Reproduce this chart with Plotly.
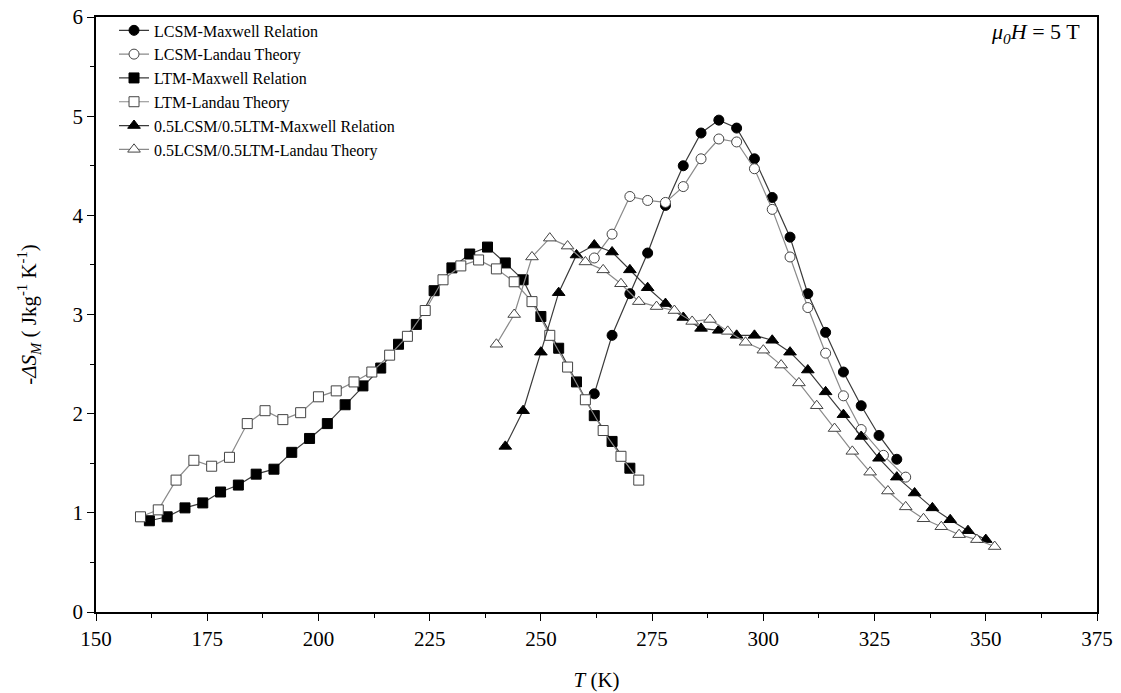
import plotly.graph_objects as go

# ---------------- data ----------------
T_lcsm_max = [262, 266, 270, 274, 278, 282, 286, 290, 294, 298, 302, 306, 310, 314, 318, 322, 326, 330]
S_lcsm_max = [2.20, 2.79, 3.21, 3.62, 4.10, 4.50, 4.83, 4.96, 4.88, 4.57, 4.18, 3.78, 3.21, 2.82, 2.42, 2.08, 1.78, 1.54]

T_lcsm_lan = [262, 266, 270, 274, 278, 282, 286, 290, 294, 298, 302, 306, 310, 314, 318, 322, 327, 332]
S_lcsm_lan = [3.57, 3.81, 4.19, 4.15, 4.13, 4.29, 4.57, 4.77, 4.74, 4.47, 4.06, 3.58, 3.07, 2.61, 2.18, 1.84, 1.58, 1.36]

T_ltm_max = [162, 166, 170, 174, 178, 182, 186, 190, 194, 198, 202, 206, 210, 214,
             218, 222, 226, 230, 234, 238, 242, 246, 250, 254, 258, 262, 266, 270]
S_ltm_max = [0.92, 0.96, 1.05, 1.10, 1.21, 1.28, 1.39, 1.44, 1.61, 1.75, 1.90, 2.09, 2.28, 2.46,
             2.70, 2.90, 3.24, 3.47, 3.61, 3.68, 3.52, 3.35, 2.98, 2.66, 2.32, 1.98, 1.72, 1.45]

T_ltm_lan = [160, 164, 168, 172, 176, 180, 184, 188, 192, 196, 200, 204, 208, 212, 216,
             220, 224, 228, 232, 236, 240, 244, 248, 252, 256, 260, 264, 268, 272]
S_ltm_lan = [0.96, 1.03, 1.33, 1.53, 1.47, 1.56, 1.90, 2.03, 1.94, 2.01, 2.17, 2.23, 2.32, 2.42, 2.59,
             2.78, 3.04, 3.35, 3.49, 3.55, 3.46, 3.33, 3.13, 2.79, 2.47, 2.14, 1.83, 1.57, 1.33]

T_mix_max = [242, 246, 250, 254, 258, 262, 266, 270, 274, 278, 282, 286, 290, 294,
             298, 302, 306, 310, 314, 318, 322, 326, 330, 334, 338, 342, 346, 350]
S_mix_max = [1.67, 2.03, 2.62, 3.22, 3.60, 3.70, 3.63, 3.45, 3.27, 3.11, 2.97, 2.86, 2.84, 2.79,
             2.79, 2.74, 2.62, 2.44, 2.22, 1.99, 1.77, 1.55, 1.36, 1.20, 1.05, 0.93, 0.82, 0.73]

T_mix_lan = [240, 244, 248, 252, 256, 260, 264, 268, 272, 276, 280, 284, 288, 292, 296,
             300, 304, 308, 312, 316, 320, 324, 328, 332, 336, 340, 344, 348, 352]
S_mix_lan = [2.70, 3.00, 3.58, 3.77, 3.69, 3.53, 3.45, 3.31, 3.13, 3.08, 3.04, 2.93, 2.95, 2.83, 2.72,
             2.64, 2.49, 2.31, 2.08, 1.85, 1.62, 1.41, 1.22, 1.06, 0.94, 0.86, 0.78, 0.73, 0.66]

x_ticks = [150, 175, 200, 225, 250, 275, 300, 325, 350, 375]
y_ticks = [0, 1, 2, 3, 4, 5, 6]

series = [
    ("LCSM-Maxwell Relation", T_lcsm_max, S_lcsm_max, "circle", True),
    ("LCSM-Landau Theory", T_lcsm_lan, S_lcsm_lan, "circle", False),
    ("LTM-Maxwell Relation", T_ltm_max, S_ltm_max, "square", True),
    ("LTM-Landau Theory", T_ltm_lan, S_ltm_lan, "square", False),
    ("0.5LCSM/0.5LTM-Maxwell Relation", T_mix_max, S_mix_max, "triangle-up", True),
    ("0.5LCSM/0.5LTM-Landau Theory", T_mix_lan, S_mix_lan, "triangle-up", False),
]

SERIF = "Liberation Serif, Times New Roman, serif"

fig = go.Figure()
for name, xs, ys, sym, filled in series:
    fig.add_trace(go.Scatter(
        x=xs, y=ys, name=name, mode="lines+markers",
        line=dict(color="#3a3a3a" if filled else "#8a8a8a", width=1.2),
        marker=dict(symbol=sym, size=10 if sym != "triangle-up" else 11,
                    color="black" if filled else "white",
                    line=dict(color="black" if filled else "#444444", width=1)),
    ))

axis_common = dict(
    showline=True, linecolor="black", linewidth=1.5, mirror=True,
    ticks="outside", ticklen=7, tickwidth=1.2, tickcolor="black",
    showgrid=False, zeroline=False, automargin=False,
    tickfont=dict(family=SERIF, size=21, color="black"),
)

fig.update_layout(
    width=1121, height=693,
    paper_bgcolor="white", plot_bgcolor="white",
    margin=dict(l=96, r=24, t=17, b=81),
    showlegend=True,
    legend=dict(x=0.018, y=1.006, xanchor="left", yanchor="top",
                bgcolor="rgba(0,0,0,0)", borderwidth=0,
                font=dict(family=SERIF, size=16, color="black"),
                tracegroupgap=0, itemwidth=30),
    xaxis=dict(range=[150, 375], tickvals=x_ticks, ticktext=[str(v) for v in x_ticks],
               minor=dict(ticks="outside", ticklen=4, tickcolor="black", dtick=12.5, tick0=150),
               title=dict(text="<i>T</i> (K)", font=dict(family=SERIF, size=21, color="black"),
                          standoff=22),
               **axis_common),
    yaxis=dict(range=[0, 6], tickvals=y_ticks, ticktext=[str(v) for v in y_ticks],
               minor=dict(ticks="outside", ticklen=4, tickcolor="black", dtick=0.5, tick0=0),
               title=dict(text="-<i>ΔS</i><sub><i>M</i></sub> ( Jkg<sup>-1</sup> K<sup>-1</sup>)",
                          font=dict(family=SERIF, size=21, color="black"), standoff=30),
               **axis_common),
    annotations=[dict(
        x=0.985, y=1.0, xref="paper", yref="paper", xanchor="right", yanchor="top",
        text="<i>μ</i><sub><i>0</i></sub><i>H</i> = 5 T", showarrow=False,
        font=dict(family=SERIF, size=22, color="black"),
    )],
)

fig.write_html("out.html", config={"displayModeBar": False},
               post_script="document.body.style.margin='0px';")
